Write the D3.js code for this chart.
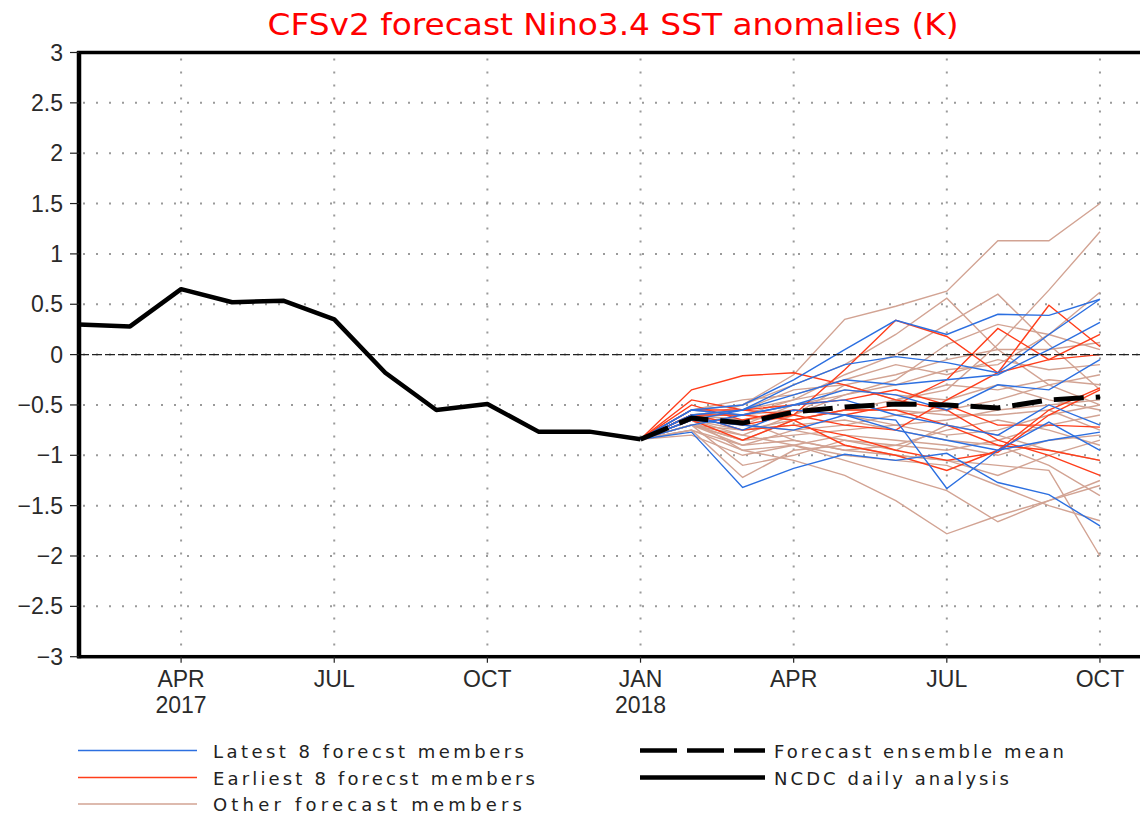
<!DOCTYPE html>
<html lang="en">
<head>
  <meta charset="UTF-8">
  <title>CFSv2 forecast Nino3.4 SST anomalies</title>
  <script src="https://d3js.org/d3.v7.min.js"></script>
  <style>
    body {
      margin: 0;
      background-color: #fff;
      overflow: hidden;
    }
    svg {
      display: block;
      font-family: "Liberation Sans", Arial, sans-serif;
    }
    .grid {
      stroke: #9a9a9a;
      stroke-width: 2;
      stroke-dasharray: 2, 11;
    }
    .member {
      fill: none;
      stroke-width: 1.4;
    }
    .tick-label {
      font-size: 23px;
      fill: #2a2a2a;
    }
    .month, .year {
      font-family: "Liberation Sans Narrow", "Liberation Sans", Arial, sans-serif;
    }
    .legend-label, .title {
      font-family: "DejaVu Sans", "Liberation Sans", sans-serif;
    }
  </style>
</head>
<body>
  <svg width="1140" height="814"></svg>
  <script>
    // months counted from Feb 2017 (0) to Oct 2018 (20)
    const monthTicks = [2, 5, 8, 11, 14, 17, 20];
    const monthLabels = ["APR", "JUL", "OCT", "JAN", "APR", "JUL", "OCT"];
    const yearLabels = ["2017", "", "", "2018", "", "", ""];
    const yTicks = [-3, -2.5, -2, -1.5, -1, -0.5, 0, 0.5, 1, 1.5, 2, 2.5, 3];

    // NCDC analysis, Feb 2017 .. Jan 2018
    const obsMonths = [0, 1, 2, 3, 4, 5, 6, 7, 8, 9, 10, 11];
    const obsValues = [0.30, 0.28, 0.65, 0.52, 0.535, 0.35, -0.18, -0.55, -0.49, -0.765, -0.765, -0.84];

    // forecasts, Jan 2018 .. Oct 2018
    const fcstMonths = [11, 12, 13, 14, 15, 16, 17, 18, 19, 20];
    const ensMean = [-0.84, -0.63, -0.68, -0.57, -0.52, -0.49, -0.50, -0.53, -0.45, -0.42];

    const latestMembers = [
      [-0.84, -0.55, -0.50, -0.25, 0.05, 0.34, 0.20, 0.40, 0.39, 0.55],
      [-0.84, -0.60, -0.55, -0.30, -0.10, -0.02, -0.08, -0.18, 0.20, 0.55],
      [-0.84, -0.65, -0.55, -0.40, -0.25, -0.30, -0.25, -0.20, 0.05, 0.32],
      [-0.84, -0.70, -0.60, -0.50, -0.35, -0.40, -0.55, -0.30, -0.35, -0.05],
      [-0.84, -0.77, -1.32, -1.13, -0.99, -1.05, -0.98, -1.27, -1.39, -1.70],
      [-0.84, -0.60, -0.75, -0.55, -0.60, -0.65, -1.33, -0.95, -0.67, -0.95],
      [-0.84, -0.55, -0.60, -0.50, -0.45, -0.60, -0.70, -0.80, -0.50, -0.70],
      [-0.84, -0.65, -0.70, -0.75, -0.60, -0.75, -0.85, -0.95, -0.85, -0.77]
    ];

    const earliestMembers = [
      [-0.84, -0.35, -0.21, -0.18, -0.30, -0.45, -0.55, -0.85, -1.00, -1.20],
      [-0.84, -0.55, -0.55, -0.60, -0.15, 0.34, 0.18, -0.18, -0.05, 0.00],
      [-0.84, -0.60, -0.70, -0.60, -0.70, -0.75, -0.45, -0.18, 0.49, 0.08],
      [-0.84, -0.50, -0.65, -0.55, -0.60, -0.50, -0.25, 0.26, -0.05, 0.20],
      [-0.84, -0.65, -0.85, -0.65, -0.90, -1.00, -1.15, -0.95, -0.55, -0.33],
      [-0.84, -0.60, -0.75, -0.70, -0.80, -0.95, -1.05, -0.97, -0.60, -0.35],
      [-0.84, -0.60, -0.60, -0.65, -0.55, -0.55, -0.70, -0.90, -0.95, -1.05],
      [-0.84, -0.45, -0.55, -0.50, -0.45, -0.35, -0.50, -0.70, -0.70, -0.72]
    ];

    const otherMembers = [
      [-0.84, -0.65, -0.50, -0.20, 0.35, 0.48, 0.63, 1.13, 1.13, 1.50],
      [-0.84, -0.60, -0.55, -0.35, -0.30, -0.45, -0.35, 0.10, 0.64, 1.22],
      [-0.84, -0.55, -0.50, -0.30, -0.10, 0.20, 0.56, 0.05, -0.30, -0.50],
      [-0.84, -0.60, -0.60, -0.45, -0.20, 0.00, 0.30, 0.60, 0.10, -0.35],
      [-0.84, -0.70, -0.80, -0.60, -0.30, -0.20, -0.05, 0.05, 0.05, 0.12],
      [-0.84, -0.65, -0.70, -0.50, -0.40, -0.30, -0.15, -0.10, 0.20, 0.62],
      [-0.84, -0.70, -0.90, -0.85, -0.95, -1.00, -1.05, -1.10, -1.15, -2.00],
      [-0.84, -0.75, -0.95, -1.05, -1.20, -1.45, -1.78, -1.60, -1.45, -1.25],
      [-0.84, -0.80, -1.00, -0.90, -1.05, -1.20, -1.35, -1.66, -1.45, -1.30],
      [-0.84, -0.75, -1.22, -0.95, -0.90, -1.00, -1.05, -1.20, -1.00, -0.85],
      [-0.84, -0.70, -1.10, -1.00, -0.85, -0.90, -0.95, -0.85, -0.70, -0.60],
      [-0.84, -0.60, -0.65, -0.60, -0.40, -0.25, 0.10, 0.30, 0.20, 0.05],
      [-0.84, -0.55, -0.45, -0.40, -0.25, -0.10, -0.20, -0.05, -0.15, -0.10],
      [-0.84, -0.65, -0.75, -0.65, -0.55, -0.45, -0.30, -0.35, -0.25, -0.30],
      [-0.84, -0.60, -0.70, -0.75, -0.70, -0.60, -0.55, -0.45, -0.30, -0.20],
      [-0.84, -0.70, -0.85, -0.80, -0.75, -0.70, -0.80, -0.75, -0.60, -0.50],
      [-0.84, -0.65, -0.80, -0.90, -0.80, -0.85, -0.90, -1.00, -0.85, -0.80],
      [-0.84, -0.60, -0.65, -0.85, -0.95, -0.90, -0.75, -0.65, -0.75, -0.90],
      [-0.84, -0.55, -0.60, -0.55, -0.60, -0.70, -0.65, -0.55, -0.50, -0.45],
      [-0.84, -0.65, -0.95, -0.90, -1.00, -1.05, -1.10, -1.30, -1.50, -1.65],
      [-0.84, -0.70, -0.75, -0.70, -0.65, -0.75, -0.85, -0.90, -1.10, -1.40],
      [-0.84, -0.60, -0.55, -0.45, -0.35, -0.40, -0.45, -0.30, -0.45, -0.55],
      [-0.84, -0.70, -0.85, -0.65, -0.55, -0.55, -0.60, -0.60, -0.55, -0.75],
      [-0.84, -0.75, -0.90, -0.75, -0.85, -0.95, -0.70, -0.80, -0.95, -1.05]
    ];

    const blue = "#2c6fe0";
    const red = "#ff3d1a";
    const pink = "#d2a393";

    const svg = d3.select("svg");

    const x = d3.scaleLinear().domain([0, 21]).range([79, 1151]);
    const y = d3.scaleLinear().domain([-3, 3]).range([656.7, 52.5]);

    // Title
    svg.append("text")
      .attr("class", "title")
      .attr("x", 613)
      .attr("y", 35)
      .attr("text-anchor", "middle")
      .attr("textLength", 691)
      .attr("lengthAdjust", "spacingAndGlyphs")
      .style("font-size", "30px")
      .style("fill", "#ff0000")
      .text("CFSv2 forecast Nino3.4 SST anomalies (K)");

    // Grid
    svg.append("g").selectAll("line")
      .data(yTicks.filter(d => d > -3 && d < 3))
      .enter()
      .append("line")
      .attr("class", "grid")
      .attr("x1", x(0) + 4)
      .attr("x2", x(21))
      .attr("y1", d => y(d))
      .attr("y2", d => y(d));

    svg.append("g").selectAll("line")
      .data(monthTicks)
      .enter()
      .append("line")
      .attr("class", "grid")
      .attr("x1", d => x(d))
      .attr("x2", d => x(d))
      .attr("y1", y(3) + 6)
      .attr("y2", y(-3));

    // Forecast members
    const line = d3.line()
      .x((d, i) => x(fcstMonths[i]))
      .y(d => y(d));

    function drawMembers(data, color) {
      svg.append("g").selectAll("path")
        .data(data)
        .enter()
        .append("path")
        .attr("class", "member")
        .attr("stroke", color)
        .attr("d", line);
    }
    drawMembers(otherMembers, pink);
    drawMembers(earliestMembers, red);
    drawMembers(latestMembers, blue);

    // Zero line
    svg.append("line")
      .attr("x1", x(0))
      .attr("x2", x(21))
      .attr("y1", y(0))
      .attr("y2", y(0))
      .attr("stroke", "#222")
      .attr("stroke-width", 1.4)
      .attr("stroke-dasharray", "10,3");

    // Ensemble mean
    svg.append("path")
      .datum(ensMean)
      .attr("fill", "none")
      .attr("stroke", "#000")
      .attr("stroke-width", 5)
      .attr("stroke-dasharray", "30,12")
      .attr("d", line);

    // Observed
    svg.append("path")
      .datum(obsValues)
      .attr("fill", "none")
      .attr("stroke", "#000")
      .attr("stroke-width", 4.5)
      .attr("stroke-linejoin", "round")
      .attr("d", d3.line()
        .x((d, i) => x(obsMonths[i]))
        .y(d => y(d)));

    // Frame
    svg.append("rect")
      .attr("x", x(0))
      .attr("y", y(3))
      .attr("width", x(21) - x(0))
      .attr("height", y(-3) - y(3))
      .attr("fill", "none")
      .attr("stroke", "#000")
      .attr("stroke-width", 3.5);
    svg.append("line")
      .attr("x1", x(0)).attr("x2", x(0))
      .attr("y1", y(3) - 1.5).attr("y2", y(-3) + 1.5)
      .attr("stroke", "#000")
      .attr("stroke-width", 4.5);

    // Y axis ticks and labels
    const yAxis = svg.append("g");
    yAxis.selectAll("line")
      .data(yTicks)
      .enter()
      .append("line")
      .attr("x1", x(0) - 9)
      .attr("x2", x(0))
      .attr("y1", d => y(d))
      .attr("y2", d => y(d))
      .attr("stroke", "#222")
      .attr("stroke-width", 1.2);
    yAxis.selectAll("text")
      .data(yTicks)
      .enter()
      .append("text")
      .attr("class", "tick-label")
      .attr("x", 63)
      .attr("y", d => y(d) + 8)
      .attr("text-anchor", "end")
      .text(d => d < 0 ? "\u2212" + Math.abs(d) : String(d));

    // X axis ticks and labels
    const xAxis = svg.append("g");
    xAxis.selectAll("line")
      .data(monthTicks)
      .enter()
      .append("line")
      .attr("x1", d => x(d))
      .attr("x2", d => x(d))
      .attr("y1", y(-3))
      .attr("y2", y(-3) + 6)
      .attr("stroke", "#222")
      .attr("stroke-width", 1.2);
    xAxis.selectAll("text.month")
      .data(monthTicks)
      .enter()
      .append("text")
      .attr("class", "tick-label month")
      .attr("x", d => x(d))
      .attr("y", 687)
      .attr("text-anchor", "middle")
      .text((d, i) => monthLabels[i]);
    xAxis.selectAll("text.year")
      .data(monthTicks)
      .enter()
      .append("text")
      .attr("class", "tick-label year")
      .attr("x", d => x(d))
      .attr("y", 713)
      .attr("text-anchor", "middle")
      .style("font-family", "'Liberation Sans', Arial, sans-serif")
      .text((d, i) => yearLabels[i]);

    // Legend
    const legendItems = [
      { label: "Latest 8 forecst members", color: blue, width: 1.5, dash: null, x: 78, y: 750.5, len: 311 },
      { label: "Earliest 8 forecst members", color: red, width: 1.5, dash: null, x: 78, y: 777.5, len: 322 },
      { label: "Other forecast members", color: pink, width: 1.5, dash: null, x: 78, y: 804, len: 309 },
      { label: "Forecast ensemble mean", color: "#000", width: 4.5, dash: "37,10", x: 640, y: 750.5, len: 290 },
      { label: "NCDC daily analysis", color: "#000", width: 4.5, dash: null, x: 640, y: 777.5, len: 235 }
    ];

    const legend = svg.append("g").selectAll("g")
      .data(legendItems)
      .enter()
      .append("g");
    legend.append("line")
      .attr("x1", d => d.x)
      .attr("x2", d => d.x + (d.width > 2 ? 125 : 119))
      .attr("y1", d => d.y)
      .attr("y2", d => d.y)
      .attr("stroke", d => d.color)
      .attr("stroke-width", d => d.width)
      .attr("stroke-dasharray", d => d.dash);
    legend.append("text")
      .attr("class", "legend-label")
      .attr("x", d => d.x + (d.width > 2 ? 134 : 135))
      .attr("y", d => d.y + 7)
      .attr("textLength", d => d.len)
      .attr("lengthAdjust", "spacing")
      .style("font-size", "18px")
      .style("fill", "#222")
      .text(d => d.label);
  </script>
</body>
</html>
